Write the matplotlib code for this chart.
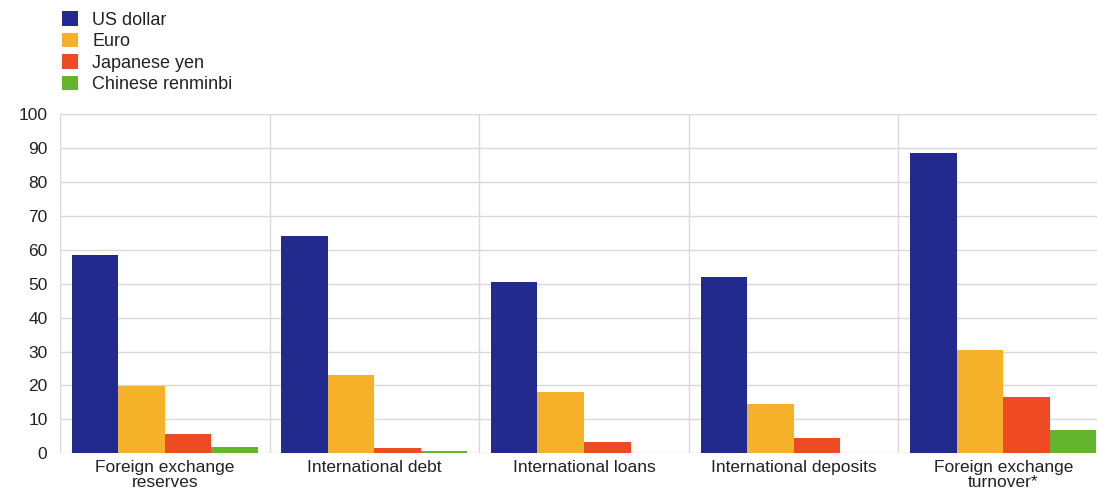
import matplotlib
matplotlib.use("Agg")
import matplotlib.pyplot as plt
import numpy as np

categories = ["Foreign exchange\nreserves", "International debt", "International loans",
              "International deposits", "Foreign exchange\nturnover*"]
currencies = ["US dollar", "Euro", "Japanese yen", "Chinese renminbi"]
usd = [58.4, 64.1, 50.5, 52.0, 88.6]
eur = [19.9, 23.0, 18.1, 14.6, 30.5]
jpy = [5.6, 1.5, 3.3, 4.5, 16.6]
cny = [1.8, 0.8, 0.0, 0.0, 6.8]
colors = ["#222a8e", "#f6b12b", "#ee4a24", "#64b42d"]

plt.rcParams["font.family"] = ["Liberation Sans", "DejaVu Sans"]
fig = plt.figure(figsize=(10.97, 4.99), dpi=100)
ax = fig.add_axes([60/1097, 1-453.3/499, 1048/1097, (453.3-114)/499])

x = np.arange(len(categories))
w = 0.222
series = [usd, eur, jpy, cny]
for i, (vals, c, name) in enumerate(zip(series, colors, currencies)):
    ax.bar(x + (i - 1.5)*w, vals, w, color=c, label=name, zorder=3)

ax.set_ylim(0, 100)
ax.set_xlim(-0.5, len(categories) - 0.5)
ax.set_yticks(range(0, 101, 10))
ax.yaxis.grid(True, color="#d9d9d9", linewidth=1, zorder=0)
for b in np.arange(-0.5, len(categories) - 0.5):
    ax.axvline(b, color="#d9d9d9", linewidth=1, zorder=0)
for s in ax.spines.values():
    s.set_visible(False)
ax.set_xticks(x)
ax.set_xticklabels(categories, fontsize=12.5, color="#222222", linespacing=0.95)
ax.tick_params(axis="both", length=0, labelsize=12.5, colors="#222222")
ax.tick_params(axis="x", pad=5)
ax.tick_params(axis="y", pad=9)

fig.legend(loc="upper left", bbox_to_anchor=(0.042, 1.01), frameon=False,
           fontsize=13, handlelength=0.85, handleheight=0.85, handletextpad=0.8,
           labelspacing=0.22, labelcolor="#222222")

fig.savefig("out.png", dpi=100)
